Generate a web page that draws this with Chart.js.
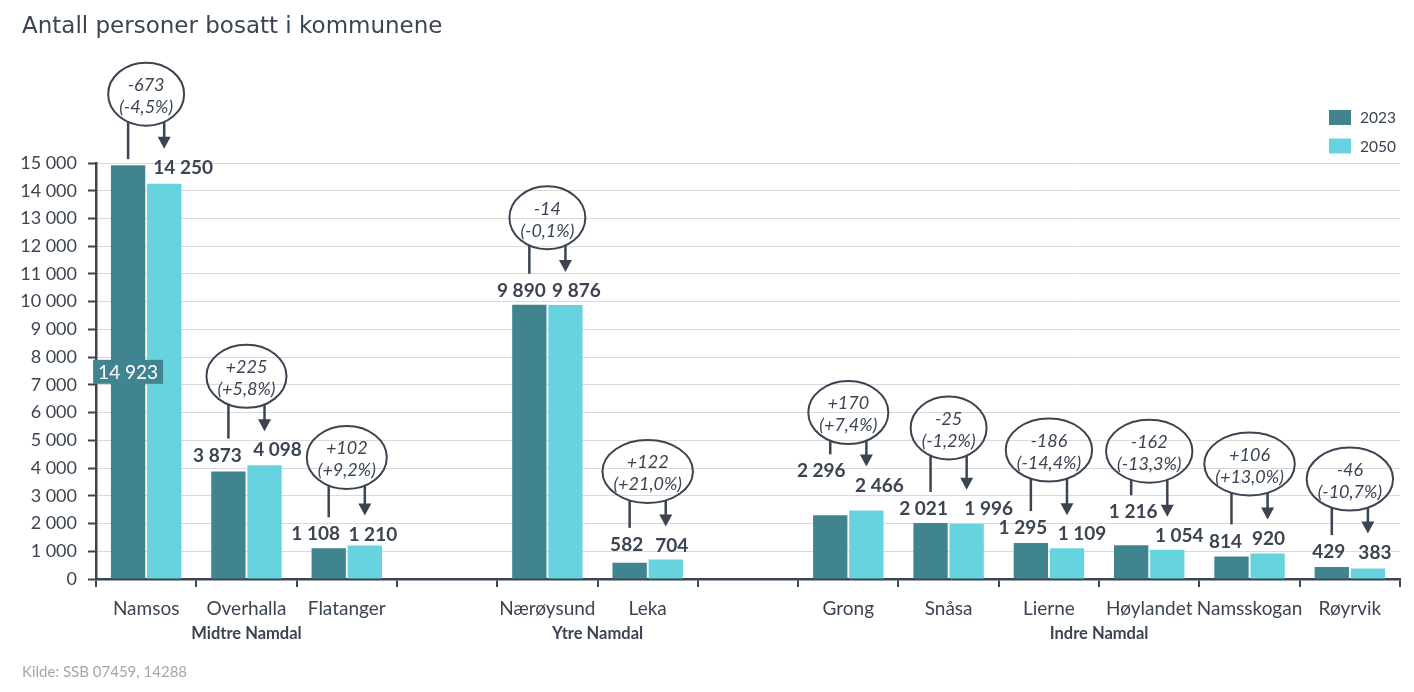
<!DOCTYPE html>
<html><head><meta charset="utf-8">
<script src="https://cdn.jsdelivr.net/npm/chart.js@4.4.1/dist/chart.umd.min.js"></script>
<style>html,body{margin:0;padding:0;background:#fff}#wrap{width:1414px;height:692px}</style>
</head><body><div id="wrap"><canvas id="c" width="1414" height="692"></canvas></div>
<script>
const categories = ['Namsos','Overhalla','Flatanger','','Nærøysund','Leka','','Grong','Snåsa','Lierne','Høylandet','Namsskogan','Røyrvik'];
const pop2023 = [14923,3873,1108,null,9890,582,null,2296,2021,1295,1216,814,429];
const pop2050 = [14250,4098,1210,null,9876,704,null,2466,1996,1109,1054,920,383];
const seriesNames = ['2023','2050'];
const groupNames = ['Midtre Namdal','Ytre Namdal','Indre Namdal'];
const groupFirst = [0,4,7];
const groupLast = [2,5,12];
const yTicks = [0,1000,2000,3000,4000,5000,6000,7000,8000,9000,10000,11000,12000,13000,14000,15000];
const titleText = 'Antall personer bosatt i kommunene';
const sourceText = 'Kilde: SSB 07459, 14288';

// layout config (pixel offsets for labels / annotation bubbles)
const lbl23 = [[0,0],[-11,-16],[-13,-14],null,[-8,-14],[-3,-18],null,[-9,-44],[-7,-14],[-8,-15],[2,-33],[-6,-15],[-3,-15]];
const lbl50 = [[19,-16],[13,-15],[8,-11],null,[11,-14],[6,-14],null,[13,-25],[22,-15],[15,-14],[12,-14],[1,-15],[7,-16]];
const ellDy = [-71,-89,-88,null,-87,-88,null,-98,-95,-93,-94,-89.5,-88];

const C1 = '#40848F', C2 = '#66D3DF', TXT = '#3B4552';
const fmt = n => String(n).replace(/\B(?=(\d{3})+(?!\d))/g,' ');

const deco = {
  id:'deco',
  afterDatasetsDraw(chart){
    const ctx = chart.ctx;
    const m0 = chart.getDatasetMeta(0), m1 = chart.getDatasetMeta(1);
    ctx.save();
    ctx.textAlign='center'; ctx.textBaseline='middle';
    categories.forEach((c,i)=>{
      if(pop2023[i]==null) return;
      const b0 = m0.data[i], b1 = m1.data[i];
      let l23y, l50y;
      if(i===0){
        const cy = (b0.y + b0.base)/2;
        ctx.font='19px Lato';
        const w = ctx.measureText(fmt(pop2023[i])).width + 10;
        ctx.fillStyle=C1; ctx.fillRect(b0.x - w/2, cy-12, w, 24);
        ctx.fillStyle='#fff'; ctx.fillText(fmt(pop2023[i]), b0.x, cy+1);
        l23y = null;
      } else {
        ctx.font='bold 19px Lato'; ctx.fillStyle=TXT;
        l23y = b0.y + lbl23[i][1];
        ctx.fillText(fmt(pop2023[i]), b0.x + lbl23[i][0], l23y);
      }
      ctx.font='bold 19px Lato'; ctx.fillStyle=TXT;
      l50y = b1.y + lbl50[i][1];
      ctx.fillText(fmt(pop2050[i]), b1.x + lbl50[i][0], l50y);

      const d = pop2050[i]-pop2023[i];
      const pct = d/pop2023[i]*100;
      const s1 = (d>0?'+':'') + d;
      const s2 = '(' + (pct>0?'+':'-') + Math.abs(pct).toFixed(1).replace('.',',') + '%)';
      ctx.font='italic 18px Lato';
      const tw = Math.max(ctx.measureText(s1).width, ctx.measureText(s2).width);
      const rx = tw/2 + 11, ry = 31.5;
      const cx = (b0.x + b1.x)/2;
      const cy = Math.min(b0.y, b1.y) + ellDy[i];
      ctx.strokeStyle=TXT; ctx.lineWidth=2;
      ctx.beginPath(); ctx.ellipse(cx, cy, rx, ry, 0, 0, Math.PI*2); ctx.stroke();
      ctx.fillStyle=TXT;
      ctx.fillText(s1, cx, cy-9);
      ctx.fillText(s2, cx, cy+13);
      const edge = x => cy + ry*Math.sqrt(Math.max(0,1-Math.pow((x-cx)/rx,2)));
      const lEnd = (l23y==null) ? b0.y - 6 : l23y - 17;
      ctx.lineWidth=2.5;
      ctx.beginPath(); ctx.moveTo(b0.x, edge(b0.x)); ctx.lineTo(b0.x, lEnd); ctx.stroke();
      const tip = l50y - 19;
      ctx.beginPath(); ctx.moveTo(b1.x, edge(b1.x)); ctx.lineTo(b1.x, tip-10); ctx.stroke();
      ctx.beginPath(); ctx.moveTo(b1.x-6.5, tip-12); ctx.lineTo(b1.x+6.5, tip-12); ctx.lineTo(b1.x, tip); ctx.closePath(); ctx.fill();
    });
    ctx.restore();
  },
  afterDraw(chart){
    const ctx = chart.ctx, x = chart.scales.x;
    ctx.save();
    ctx.fillStyle=TXT; ctx.textAlign='left'; ctx.textBaseline='middle';
    ctx.font='23px "DejaVu Sans"';
    ctx.fillText(titleText, 22, 27);
    ctx.fillStyle='#A6A6A6'; ctx.font='15px Lato';
    ctx.fillText(sourceText, 22, 672);
    ctx.fillStyle=TXT; ctx.font='bold 16.5px Lato'; ctx.textAlign='center';
    groupNames.forEach((g,k)=>{
      const gx = (x.getPixelForValue(groupFirst[k]) + x.getPixelForValue(groupLast[k]))/2;
      ctx.fillText(g, gx, 634);
    });
    const cols=[C1,C2];
    ctx.textAlign='left'; ctx.font='15.5px Lato';
    seriesNames.forEach((s,k)=>{
      const ly = 110 + k*28.5;
      ctx.fillStyle=cols[k]; ctx.fillRect(1329, ly, 22, 15);
      ctx.fillStyle=TXT; ctx.fillText(s, 1360, ly+8);
    });
    ctx.restore();
  }
};

new Chart(document.getElementById('c'), {
  type:'bar',
  data:{
    labels:categories,
    datasets:[
      {label:seriesNames[0], data:pop2023, backgroundColor:C1, borderWidth:0, categoryPercentage:0.72, barPercentage:0.95},
      {label:seriesNames[1], data:pop2050, backgroundColor:C2, borderWidth:0, categoryPercentage:0.72, barPercentage:0.95}
    ]
  },
  options:{
    responsive:false, animation:false, maintainAspectRatio:false,
    layout:{padding:{top:163,left:0,right:14,bottom:0}},
    plugins:{legend:{display:false}, tooltip:{enabled:false}, title:{display:false}},
    scales:{
      x:{
        grid:{offset:true, drawOnChartArea:false, drawTicks:true, tickLength:8, color:TXT, lineWidth:2},
        border:{color:TXT, width:2.5},
        ticks:{color:TXT, font:{family:'Lato', size:19}, padding:10, maxRotation:0, autoSkip:false},
        afterFit(s){ s.height = 113; }
      },
      y:{
        min:0, max:15000,
        grid:{color:'#D9D9D9', lineWidth:1, tickColor:TXT, tickLength:8, tickWidth:2},
        border:{color:TXT, width:2.5},
        afterBuildTicks(s){ s.ticks = yTicks.map(v=>({value:v})); },
        ticks:{color:TXT, font:{family:'Lato', size:18}, padding:11, callback:v=>fmt(v)},
        afterFit(s){ s.width = 96; }
      }
    }
  },
  plugins:[deco]
});
</script>
</body></html>
